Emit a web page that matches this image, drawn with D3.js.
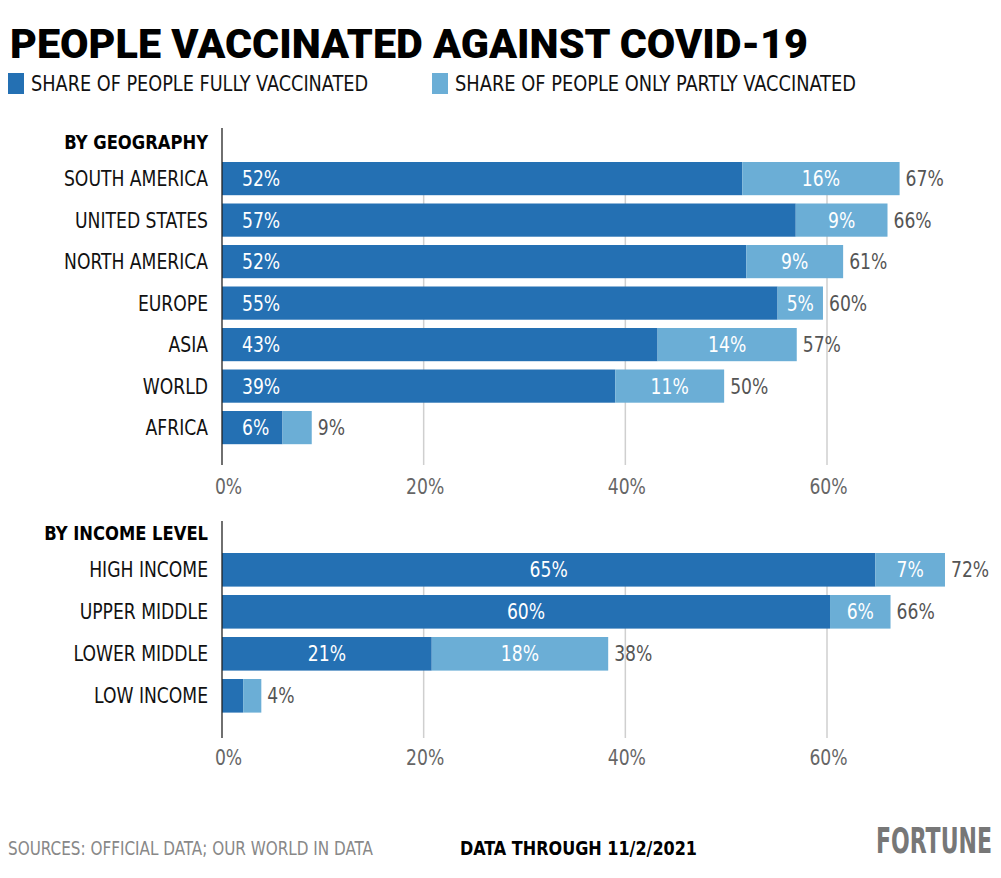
<!DOCTYPE html>
<html>
<head>
<meta charset="utf-8">
<script src="https://cdn.jsdelivr.net/npm/d3@7/dist/d3.min.js"></script>
<style>
  html, body { margin: 0; padding: 0; background: #fff; }
  svg { display: block; }
  .narrow { font-family: "Liberation Sans Narrow", "DejaVu Sans Condensed", "Liberation Sans", sans-serif; }
</style>
</head>
<body>
<svg id="chart" width="1001" height="878"></svg>
<script>
// ---- data ----
const geoCategories = ["SOUTH AMERICA", "UNITED STATES", "NORTH AMERICA", "EUROPE", "ASIA", "WORLD", "AFRICA"];
const geoFully   = [51.6, 56.9, 52.0, 55.1, 43.2, 39.0, 6.0];
const geoPartly  = [15.6, 9.1, 9.6, 4.5, 13.8, 10.8, 2.9];
const geoFullyLabels  = ["52%", "57%", "52%", "55%", "43%", "39%", "6%"];
const geoPartlyLabels = ["16%", "9%", "9%", "5%", "14%", "11%", ""];
const geoTotalLabels  = ["67%", "66%", "61%", "60%", "57%", "50%", "9%"];

const incCategories = ["HIGH INCOME", "UPPER MIDDLE", "LOWER MIDDLE", "LOW INCOME"];
const incFully   = [64.8, 60.3, 20.8, 2.1];
const incPartly  = [6.9, 6.0, 17.5, 1.8];
const incFullyLabels  = ["65%", "60%", "21%", ""];
const incPartlyLabels = ["7%", "6%", "18%", ""];
const incTotalLabels  = ["72%", "66%", "38%", "4%"];

const tickValues = [0, 20, 40, 60];
const tickLabels = ["0%", "20%", "40%", "60%"];

const legendLabels = ["SHARE OF PEOPLE FULLY VACCINATED", "SHARE OF PEOPLE ONLY PARTLY VACCINATED"];
const DARK = "#2470b3", LIGHT = "#6baed6";
const SX = 0.91; // horizontal squeeze to mimic condensed face

// ---- drawing ----
const svg = d3.select("#chart");
const x = d3.scaleLinear().domain([0, 60]).range([222, 827]);

function ntext(parent, px, py, str, opts) {
  const g = parent.append("g").attr("transform", `translate(${px},${py}) scale(${SX},1)`);
  const t = g.append("text").attr("class", "narrow").attr("x", 0).attr("y", 0)
    .attr("font-size", opts.size || 21)
    .attr("fill", opts.fill || "#111")
    .attr("text-anchor", opts.anchor || "start")
    .text(str);
  if (opts.bold) t.attr("font-weight", "bold");
  return t;
}

// title
svg.append("text")
  .attr("x", 10).attr("y", 58)
  .attr("font-family", "Roboto, 'Liberation Sans', sans-serif")
  .attr("font-weight", 900).attr("font-size", 41)
  .attr("textLength", 798).attr("lengthAdjust", "spacingAndGlyphs")
  .attr("fill", "#000")
  .text("PEOPLE VACCINATED AGAINST COVID-19");

// legend
const legendX = [8, 432];
const legendW = [337, 401];
legendLabels.forEach((lab, i) => {
  svg.append("rect").attr("x", legendX[i]).attr("y", 73).attr("width", 16).attr("height", 21)
    .attr("fill", i === 0 ? DARK : LIGHT);
  svg.append("text").attr("class", "narrow")
    .attr("x", legendX[i] + 23).attr("y", 91)
    .attr("font-size", 21).attr("fill", "#111")
    .attr("textLength", legendW[i]).attr("lengthAdjust", "spacingAndGlyphs")
    .text(lab);
});

function panel(opts) {
  const { cats, fully, partly, fl, pl, tl, title, titleY, bandRange, axisTop, axisBottom, tickY, centerFullyLabels } = opts;
  const y = d3.scaleBand().domain(cats).range(bandRange).paddingInner(0.2).paddingOuter(0.1);
  const g = svg.append("g");
  const cy = d => y(d) + y.bandwidth() / 2 + 7.5;

  // gridlines
  g.selectAll(".grid").data(tickValues.filter(d => d > 0)).enter().append("line")
    .attr("x1", d => x(d)).attr("x2", d => x(d))
    .attr("y1", y(cats[0])).attr("y2", axisBottom)
    .attr("stroke", "#cfcfcf").attr("stroke-width", 1.5);

  // section title
  ntext(g, 208, titleY, title, { size: 20, bold: true, fill: "#000", anchor: "end" });

  // category labels
  cats.forEach(d => ntext(g, 208, cy(d), d, { size: 21, fill: "#111", anchor: "end" }));

  // bars
  g.selectAll(".full").data(cats).enter().append("rect")
    .attr("x", x(0)).attr("y", d => y(d))
    .attr("width", (d, i) => x(fully[i]) - x(0)).attr("height", y.bandwidth())
    .attr("fill", DARK);
  g.selectAll(".part").data(cats).enter().append("rect")
    .attr("x", (d, i) => x(fully[i])).attr("y", d => y(d))
    .attr("width", (d, i) => x(fully[i] + partly[i]) - x(fully[i])).attr("height", y.bandwidth())
    .attr("fill", LIGHT);

  // labels
  cats.forEach((d, i) => {
    if (fl[i]) {
      const c = centerFullyLabels[i];
      ntext(g, c ? (x(0) + x(fully[i])) / 2 : x(0) + 20, cy(d), fl[i],
        { size: 21, fill: "#fff", anchor: c ? "middle" : "start" });
    }
    if (pl[i]) {
      ntext(g, (x(fully[i]) + x(fully[i] + partly[i])) / 2, cy(d), pl[i],
        { size: 21, fill: "#fff", anchor: "middle" });
    }
    ntext(g, x(fully[i] + partly[i]) + 6, cy(d), tl[i], { size: 21, fill: "#555" });
  });

  // y axis line
  g.append("line").attr("x1", x(0)).attr("x2", x(0)).attr("y1", axisTop).attr("y2", axisBottom)
    .attr("stroke", "#222").attr("stroke-width", 1.3);

  // tick labels via axis
  const axis = d3.axisBottom(x).tickValues(tickValues).tickSize(0).tickFormat((d, i) => tickLabels[i]);
  const ag = g.append("g").attr("transform", `translate(0,${tickY})`).call(axis);
  ag.select(".domain").remove();
  ag.selectAll(".tick text").attr("class", "narrow").attr("font-size", 21).attr("fill", "#666")
    .attr("dy", 0).attr("y", 0)
    .attr("transform", d => `translate(${d === 0 ? 6 : 1},0) scale(${SX},1)`);
}

panel({
  cats: geoCategories, fully: geoFully, partly: geoPartly,
  fl: geoFullyLabels, pl: geoPartlyLabels, tl: geoTotalLabels,
  title: "BY GEOGRAPHY", titleY: 149,
  bandRange: [157.85, 448.35], axisTop: 128, axisBottom: 465, tickY: 494,
  centerFullyLabels: geoCategories.map(() => false)
});
panel({
  cats: incCategories, fully: incFully, partly: incPartly,
  fl: incFullyLabels, pl: incPartlyLabels, tl: incTotalLabels,
  title: "BY INCOME LEVEL", titleY: 540,
  bandRange: [548.8, 716.8], axisTop: 521, axisBottom: 738, tickY: 765,
  centerFullyLabels: incCategories.map(() => true)
});

// footer
svg.append("text").attr("class", "narrow")
  .attr("x", 8).attr("y", 855).attr("font-size", 19).attr("fill", "#888")
  .attr("textLength", 365).attr("lengthAdjust", "spacingAndGlyphs")
  .text("SOURCES: OFFICIAL DATA; OUR WORLD IN DATA");
svg.append("text").attr("class", "narrow")
  .attr("x", 460).attr("y", 855).attr("font-size", 19).attr("font-weight", "bold").attr("fill", "#000")
  .attr("textLength", 237).attr("lengthAdjust", "spacingAndGlyphs")
  .text("DATA THROUGH 11/2/2021");
svg.append("g").attr("transform", "translate(876,853) scale(1,1.5)")
  .append("text").attr("class", "narrow")
  .attr("x", 0).attr("y", 0).attr("font-size", 24).attr("font-weight", "bold").attr("fill", "#777")
  .attr("textLength", 116).attr("lengthAdjust", "spacingAndGlyphs")
  .text("FORTUNE");
</script>
</body>
</html>
